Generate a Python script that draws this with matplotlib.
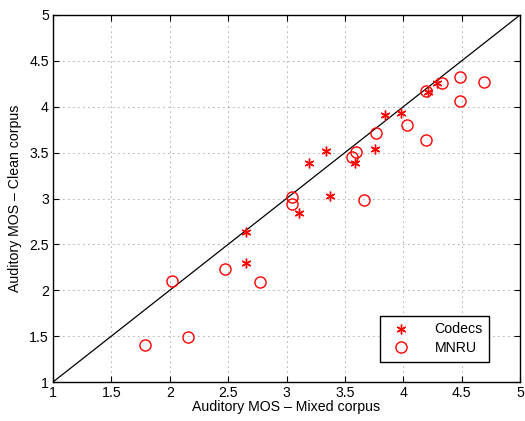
import matplotlib
matplotlib.use("Agg")
import matplotlib.pyplot as plt

plt.rcParams['font.family'] = ['Liberation Sans', 'DejaVu Sans']

codecs_x = [2.657, 2.649, 3.108, 3.194, 3.337, 3.371, 3.842, 3.979, 3.760, 3.591, 4.213, 4.285]
codecs_y = [2.635, 2.294, 2.839, 3.383, 3.521, 3.027, 3.910, 3.929, 3.540, 3.383, 4.164, 4.255]

mnru_x = [4.485, 4.691, 4.328, 4.199, 4.485, 4.034, 3.763, 4.199, 3.594, 3.557, 3.665,
          3.051, 3.051, 2.020, 2.474, 2.777, 2.157, 1.792]
mnru_y = [4.328, 4.273, 4.255, 4.172, 4.066, 3.801, 3.718, 3.638, 3.510, 3.456, 2.984,
          3.020, 2.940, 2.104, 2.228, 2.094, 1.494, 1.400]

ref_line = [1, 5]
ticks = [1, 1.5, 2, 2.5, 3, 3.5, 4, 4.5, 5]
tick_labels = ['1', '1.5', '2', '2.5', '3', '3.5', '4', '4.5', '5']

fig = plt.figure(figsize=(5.25, 4.21), dpi=100)
ax = fig.add_axes([53/525, 1-382/421, (520-53)/525, (382-15)/421])

ax.plot(ref_line, ref_line, color='black', lw=0.9, zorder=2)
ax.plot(codecs_x, codecs_y, linestyle='none', marker=(6, 2, 0), markersize=7,
        markeredgecolor='red', markeredgewidth=1.0, color='red', label='Codecs', zorder=3)
ax.plot(mnru_x, mnru_y, linestyle='none', marker='o', markersize=8,
        markerfacecolor='none', markeredgecolor='red', markeredgewidth=1.0, label='MNRU', zorder=3)

ax.set_xlim(1, 5)
ax.set_ylim(1, 5)
ax.set_xticks(ticks)
ax.set_xticklabels(tick_labels)
ax.set_yticks(ticks)
ax.set_yticklabels(tick_labels)
ax.grid(True, linestyle=(0, (1, 5)), color='#555555', lw=0.6)
ax.tick_params(direction='in', top=True, right=True, length=4, width=0.8, labelsize=10.2, pad=3)
for s in ax.spines.values():
    s.set_linewidth(1.0)

ax.set_xlabel('Auditory MOS \u2013 Mixed corpus', fontsize=10.2, labelpad=0)
ax.set_ylabel('Auditory MOS \u2013 Clean corpus', fontsize=10.2, labelpad=5)

leg = ax.legend(loc='lower right', bbox_to_anchor=(0.934, 0.055), borderaxespad=0,
                fontsize=10.2, fancybox=False, framealpha=1, edgecolor='black',
                borderpad=0.45, handletextpad=1.4, handlelength=2.0, labelspacing=0.35)
leg.get_frame().set_linewidth(1.0)

fig.savefig('out.png', dpi=100)
